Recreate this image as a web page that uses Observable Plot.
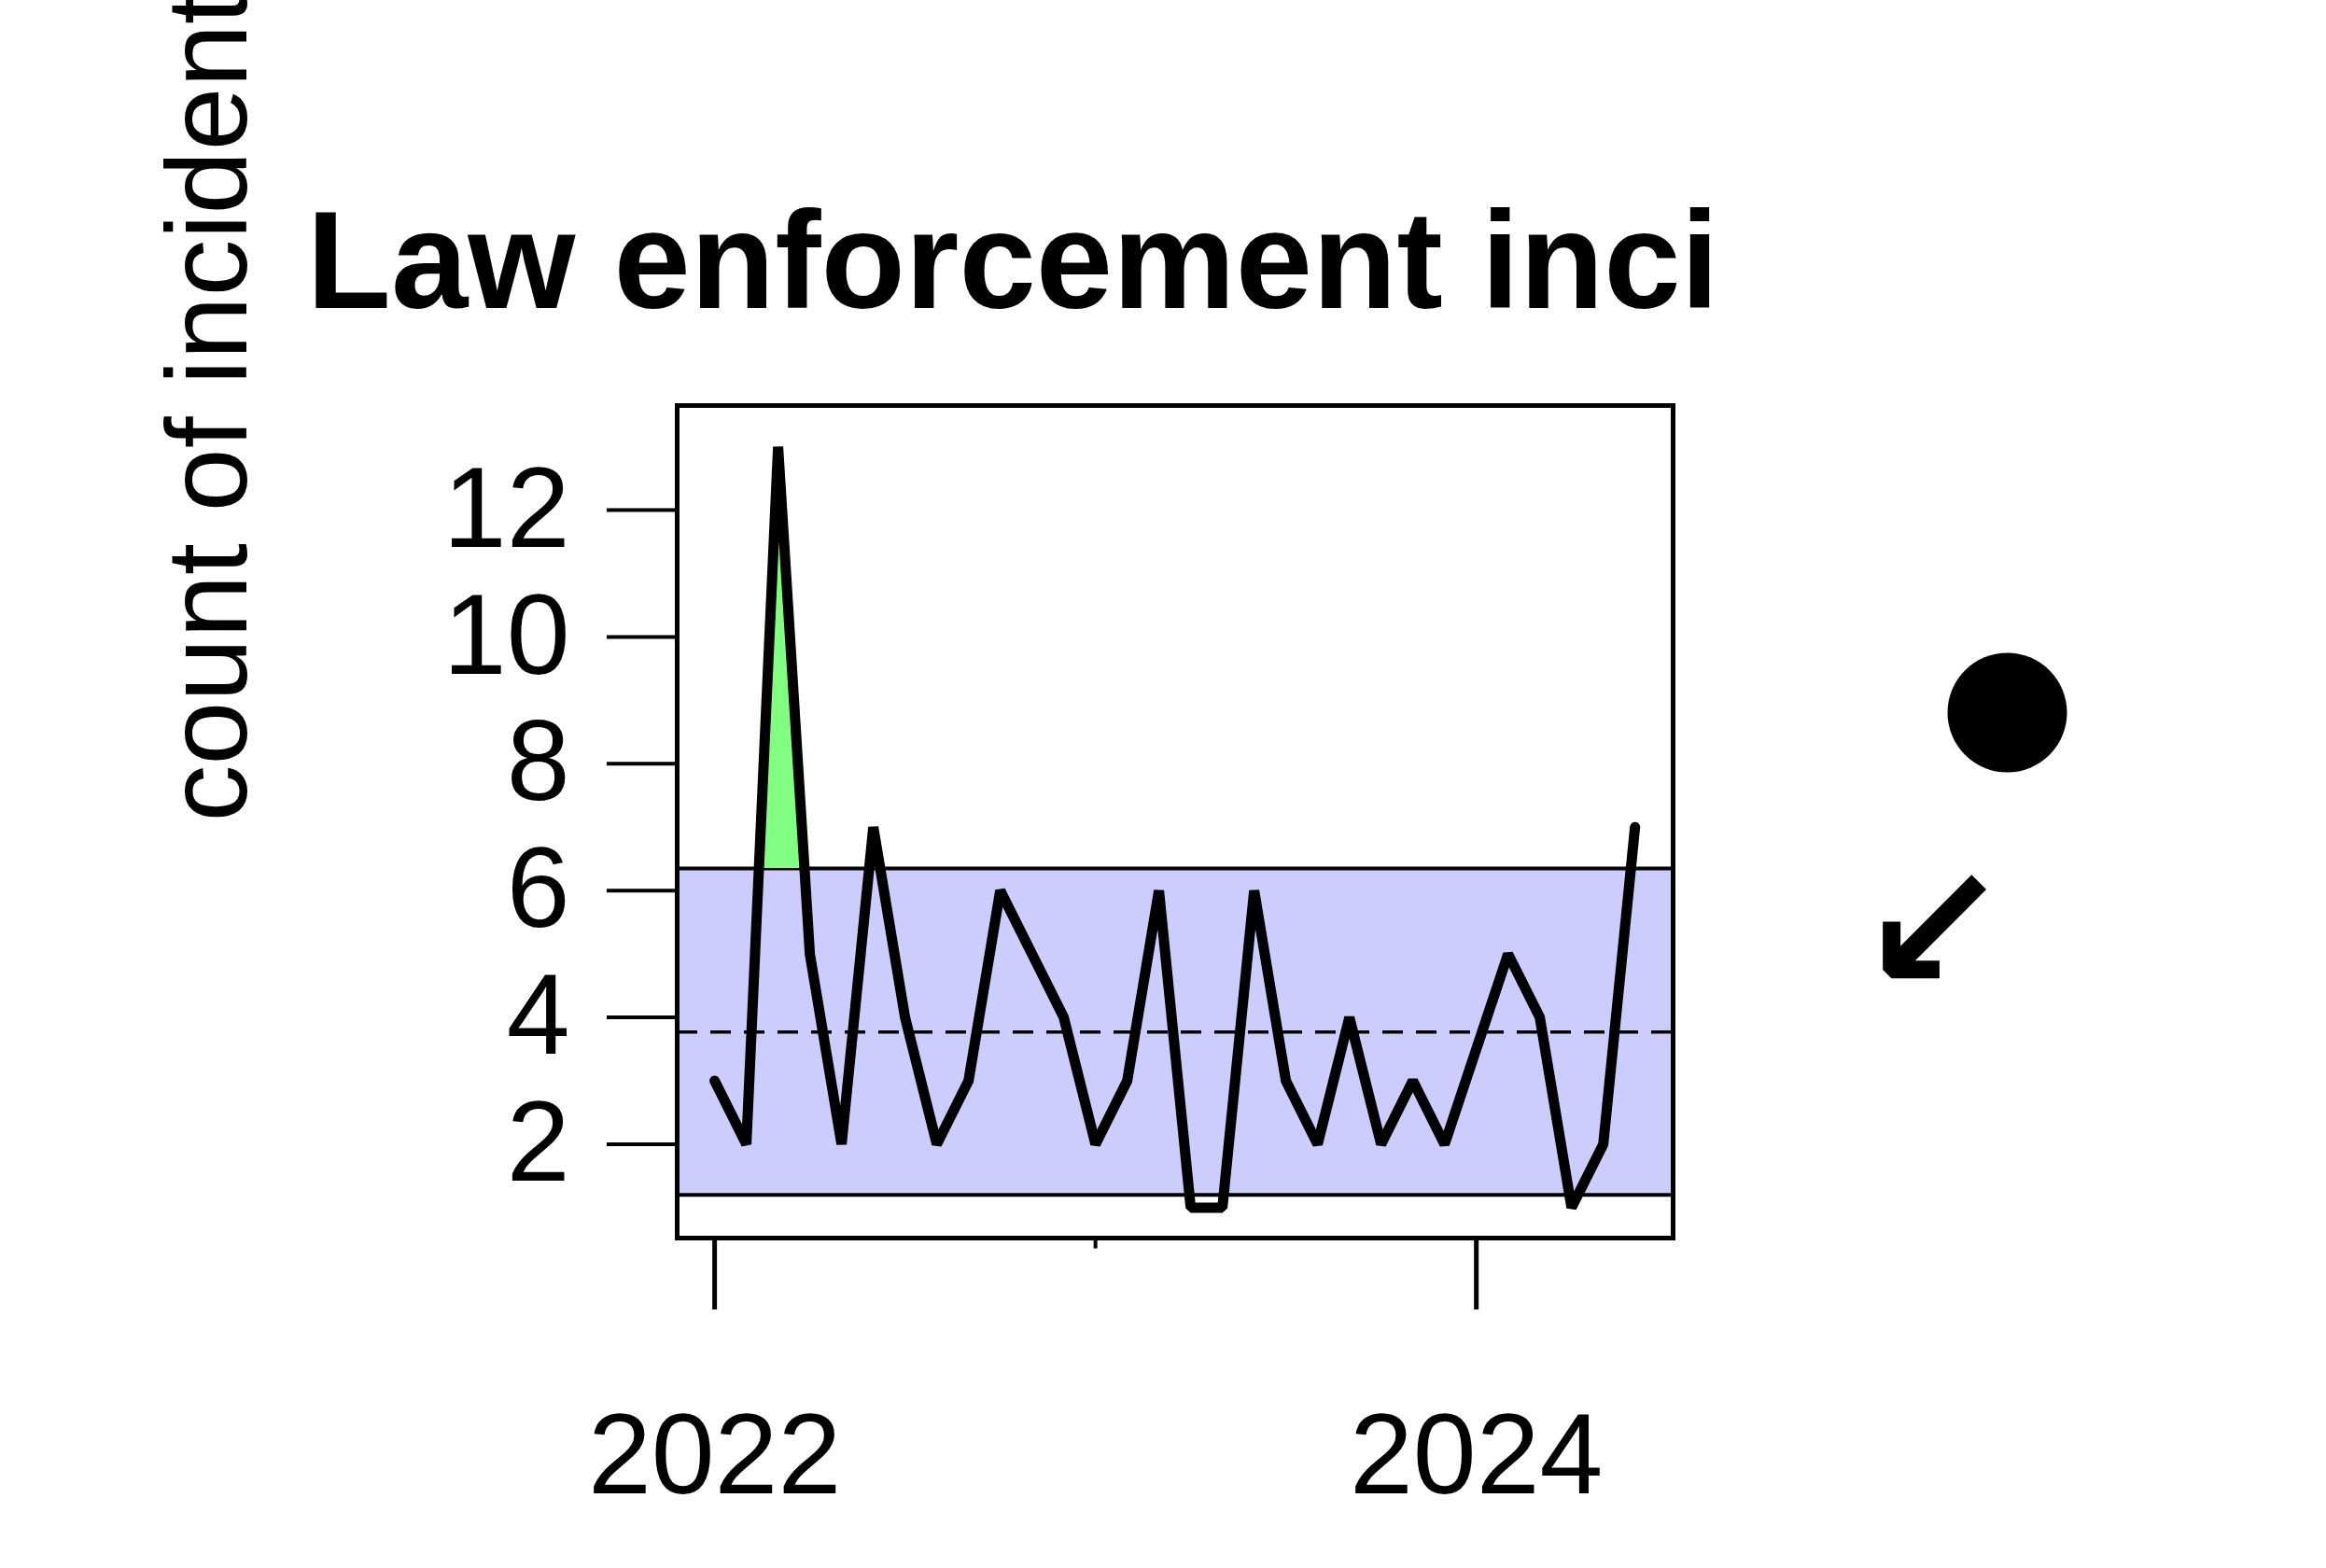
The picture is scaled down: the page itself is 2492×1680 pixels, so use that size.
<!DOCTYPE html>
<html>
<head>
<meta charset="utf-8">
<script src="https://cdn.jsdelivr.net/npm/d3@7"></script>
<script src="https://cdn.jsdelivr.net/npm/@observablehq/plot@0.6"></script>
<style>body{margin:0;background:#fff}</style>
</head>
<body>
<div id="chart"></div>
<script>
// monthly counts, Jan 2022 .. Jun 2024
const counts = [3,2,13,5,2,7,4,2,3,6,5,4,2,3,6,1,1,6,3,2,4,2,3,2,3.5,5,4,1,2,7]
const meanLine = 3.77
const lowerLimit = 1.2
const upperLimit = 6.35
const yearTicks = [0, 24]
const yearLabels = ["2022", "2024"]
const minorTicks = [12]

let data = counts.map((v, i) => ({i, v}))

// green part of the line above the upper limit (crossings found from the data)
let above = []
for (let k = 0; k < data.length; k++) {
    let d = data[k]
    if (k > 0) {
        let p = data[k-1]
        if ((p.v - upperLimit) * (d.v - upperLimit) < 0) {
            let t = (upperLimit - p.v) / (d.v - p.v)
            above.push({i: p.i + t, v: upperLimit})
        }
    }
    above.push({i: d.i, v: Math.max(d.v, upperLimit)})
}

let chart = Plot.plot({
    width: 2492,
    height: 1680,
    marginLeft: 725,
    marginRight: 700,
    marginTop: 434,
    marginBottom: 354,
    x: {type: "linear", domain: [-1.18, 30.2]},
    y: {type: "linear", domain: [0.52, 13.65]},
    style: {fontFamily: "Liberation Sans, Arial, sans-serif", fontSize: 122, background: "white"},
    marks: [
        Plot.rect([0], {y1: lowerLimit, y2: upperLimit, fill: "#CCCCFF"}),
        Plot.ruleY([lowerLimit, upperLimit], {stroke: "black", strokeWidth: 4}),
        Plot.areaY(above, {x: "i", y1: upperLimit, y2: "v", fill: "#80FF80"}),
        Plot.ruleY([meanLine], {stroke: "black", strokeWidth: 3.5, strokeDasharray: "22,14"}),
        Plot.line(data, {x: "i", y: "v", stroke: "black", strokeWidth: 11, strokeLinejoin: "miter"}),
        Plot.frame({stroke: "black", strokeWidth: 5}),
        Plot.axisY({ticks: [2,4,6,8,10,12], tickSize: 75, tickPadding: 40, strokeWidth: 4, label: null, fontSize: 122}),
        Plot.axisX({ticks: yearTicks, tickSize: 77, tickPadding: 110, strokeWidth: 5,
            tickFormat: (d, k) => yearLabels[k], label: null, fontSize: 122}),
        Plot.ruleX(minorTicks, {x: d => d, y1: 0.52, y2: 0.35, strokeWidth: 4}),
        Plot.text(["count of incidents"], {frameAnchor: "left", dx: -501, dy: 0, rotate: -90,
            fontSize: 122, fill: "black"}),
        Plot.text(["Law enforcement inci"], {frameAnchor: "top-left", textAnchor: "start",
            dx: -397, dy: -210, fontSize: 148, fontWeight: "bold", fill: "black"}),
        Plot.dot([0], {frameAnchor: "right", dx: 358, dy: -117, r: 64, fill: "black"}),
        Plot.text(["↙"], {frameAnchor: "right", dx: 358, dy: 120, fontSize: 190, fontWeight: "bold",
            fill: "black", fontFamily: "DejaVu Sans"})
    ]
})
document.getElementById("chart").append(chart)
</script>
</body>
</html>
